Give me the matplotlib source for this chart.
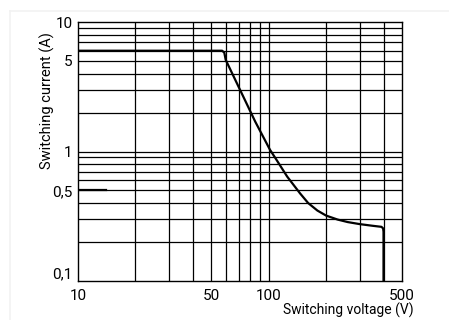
import numpy as np
import matplotlib
matplotlib.use("Agg")
import matplotlib.pyplot as plt
from matplotlib.lines import Line2D

# curve (voltage V, current A)
volts = [10, 57, 58.5, 59.5, 70.7, 85, 101.6, 110, 125, 146, 161, 180, 200, 230, 260, 300, 350, 390, 398, 400, 400]
amps = [6.0, 6.0, 5.8, 5.1, 3.0, 1.7, 1.03, 0.86, 0.64, 0.475, 0.40, 0.35, 0.32, 0.298, 0.285, 0.275, 0.267, 0.262, 0.255, 0.24, 0.1]

# short marker line at 0.5 A
mark_v = [10, 14]
mark_a = [0.5, 0.5]

x_grid = [20, 30, 40, 50, 60, 70, 80, 90, 100, 200, 300, 400]
y_grid = [0.2, 0.3, 0.4, 0.5, 0.6, 0.7, 0.8, 0.9, 1, 2, 3, 4, 5, 6, 7, 8, 9]
x_ticks = [10, 50, 100, 500]
x_labels = ["10", "50", "100", "500"]
y_ticks = [0.1, 0.5, 1, 5, 10]
y_labels = ["0,1", "0,5", "1", "5", "10"]

plt.rcParams['font.family'] = ['Roboto', 'DejaVu Sans']

fig = plt.figure(figsize=(4.49, 3.2), dpi=100)
ax = fig.add_axes([78 / 449, 1 - 281 / 320, 324 / 449, 259 / 320])

# faint card border
fig.add_artist(Line2D([10 / 449, 10 / 449], [0, 1 - 11 / 320], transform=fig.transFigure, color="#f2f2f2", lw=1.2))
fig.add_artist(Line2D([10 / 449, 1], [1 - 11 / 320, 1 - 11 / 320], transform=fig.transFigure, color="#f2f2f2", lw=1.2))

ax.set_xscale("log")
ax.set_yscale("log")
ax.set_xlim(10, 500)
ax.set_ylim(0.1, 10)

for xv in x_grid:
    ax.axvline(xv, color="black", lw=0.9)
for yv in y_grid:
    ax.axhline(yv, color="black", lw=0.9)

ax.plot(volts, amps, color="black", lw=1.6, solid_joinstyle="round")
ax.plot(mark_v, mark_a, color="black", lw=1.6)

ax.set_xticks(x_ticks)
ax.set_xticklabels(x_labels)
ax.set_yticks(y_ticks)
ax.set_yticklabels(y_labels)
ax.minorticks_off()
ax.tick_params(length=0, labelsize=11)
ax.tick_params(axis="x", pad=6)
ax.tick_params(axis="y", pad=4)
# bottom y label sits above the corner
ax.get_yticklabels()[0].set_va("bottom")

for s in ax.spines.values():
    s.set_color("black")
    s.set_linewidth(1.0)

fig.text(414 / 449, 1 - 315 / 320, "Switching voltage (V)", ha="right", va="baseline", fontsize=10)
fig.text(47 / 449, 1 - 32 / 320, "Switching current (A)", ha="center", va="top", rotation=90, fontsize=10.5)

fig.savefig("out.png", dpi=100)
